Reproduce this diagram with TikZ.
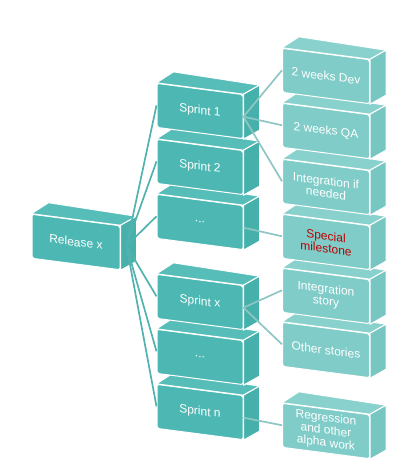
\documentclass[tikz,border=0pt]{standalone}
\usepackage{fontspec}
\setsansfont{Liberation Sans}
\usetikzlibrary{calc}
\definecolor{sprintfill}{HTML}{4DB8B3}
\definecolor{sprinttop}{HTML}{56BDB8}
\definecolor{sprintside}{HTML}{46B0AB}
\definecolor{taskfill}{HTML}{7FCCC8}
\definecolor{tasktop}{HTML}{88D1CD}
\definecolor{taskside}{HTML}{77C6C2}
\definecolor{sprintline}{HTML}{52B3AE}
\definecolor{taskline}{HTML}{8EC6C4}
\definecolor{milestone}{HTML}{C00000}
% top and right faces of a box node
\newcommand{\boxfaces}[3]{%
  \filldraw[fill=#2, draw=white, line width=1pt] (#1.north west) -- ++(17,-11)
    -- ($(#1.north east)+(16,-9)$) -- (#1.north east) -- cycle;
  \filldraw[fill=#3, draw=white, line width=1pt] (#1.north east) -- ($(#1.north east)+(16,-9)$)
    -- ($(#1.south east)+(16,-9)$) -- (#1.south east) -- cycle;
}
\begin{document}
\begin{tikzpicture}[x=1pt, y=-1pt,
    sprintbox/.style = {shape = rectangle,
                        rounded corners = 2pt,
                        fill = sprintfill,
                        draw = white,
                        line width = 1pt,
                        text = white,
                        inner sep = 1pt,
                        minimum width = 86pt,
                        minimum height = 44pt,
                        align = center,
                        font = \sffamily\fontsize{12}{12.5}\selectfont,
                        yslant = -0.13},
    taskbox/.style = {sprintbox, fill = taskfill, minimum width = 87pt},
    sprintlink/.style = {draw = sprintline, line width = 1.7pt},
    tasklink/.style = {draw = taskline, line width = 1.7pt}]
    \useasboundingbox (0,0) rectangle (401,467);
    % release
    \node[sprintbox, minimum width = 88pt] (release) at (76,242) {Release x};
    \boxfaces{release}{sprinttop}{sprintside}
    % sprints, bottom up
    \node[sprintbox] (sn) at (200,412) {Sprint n};
    \boxfaces{sn}{sprinttop}{sprintside}
    \node[sprintbox] (sdots2) at (200,357) {...};
    \boxfaces{sdots2}{sprinttop}{sprintside}
    \node[sprintbox] (sx) at (200,302) {Sprint x};
    \boxfaces{sx}{sprinttop}{sprintside}
    \node[sprintbox] (sdots1) at (200,222) {...};
    \boxfaces{sdots1}{sprinttop}{sprintside}
    \node[sprintbox] (s2) at (200,167) {Sprint 2};
    \boxfaces{s2}{sprinttop}{sprintside}
    \node[sprintbox] (s1) at (200,111) {Sprint 1};
    \boxfaces{s1}{sprinttop}{sprintside}
    % tasks, bottom up
    \node[taskbox] (regr) at (326,431) {Regression\\and other\\alpha work};
    \boxfaces{regr}{tasktop}{taskside}
    \node[taskbox] (other) at (326,350) {Other stories};
    \boxfaces{other}{tasktop}{taskside}
    \node[taskbox] (istory) at (326,296) {Integration\\story};
    \boxfaces{istory}{tasktop}{taskside}
    \node[taskbox, text = milestone] (mile) at (326,242) {Special\\milestone};
    \boxfaces{mile}{tasktop}{taskside}
    \node[taskbox] (integ) at (326,187) {Integration if\\needed};
    \boxfaces{integ}{tasktop}{taskside}
    \node[taskbox] (qa) at (326,131) {2 weeks QA};
    \boxfaces{qa}{tasktop}{taskside}
    \node[taskbox] (dev) at (326,76) {2 weeks Dev};
    \boxfaces{dev}{tasktop}{taskside}
    % links
    \coordinate (relout) at ($(release.east)+(6,-2)$);
    \foreach \s in {s1,s2,sdots1,sx,sdots2,sn}
        \path[sprintlink] (relout) -- (\s.west);
    \foreach \t in {dev,qa,integ}
        \path[tasklink] (s1.east) -- (\t.west);
    \path[tasklink] (sdots1.east) -- (mile.west);
    \path[tasklink] (sx.east) -- (istory.west);
    \path[tasklink] (sx.east) -- (other.west);
    \path[tasklink] (sn.east) -- (regr.west);
\end{tikzpicture}
\end{document}
